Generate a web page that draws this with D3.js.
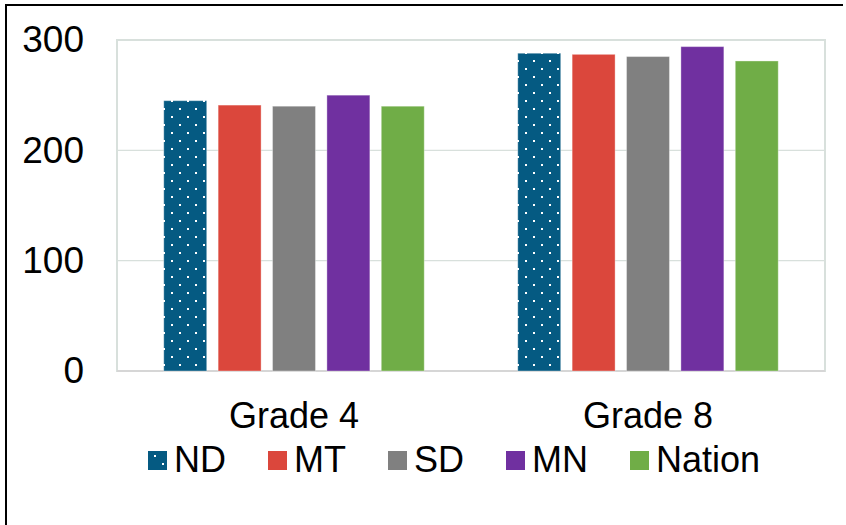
<!DOCTYPE html>
<html>
<head>
<meta charset="utf-8">
<script src="https://cdn.jsdelivr.net/npm/d3@7/dist/d3.min.js"></script>
<style>
  html, body { margin: 0; padding: 0; background: #fff; }
  svg { display: block; font-family: "Liberation Sans", Arial, sans-serif; }
</style>
</head>
<body>
<svg id="chart" width="846" height="525"></svg>
<script>
const categories = ["Grade 4", "Grade 8"];
const series = ["ND", "MT", "SD", "MN", "Nation"];
const ndValues = [245, 288];
const mtValues = [241, 287];
const sdValues = [240, 285];
const mnValues = [250, 294];
const nationValues = [240, 281];
const yTicks = [0, 100, 200, 300];
const colors = ["url(#dots)", "#db473c", "#808080", "#7030a0", "#70ad47"];

const valuesBySeries = [ndValues, mtValues, sdValues, mnValues, nationValues];

const svg = d3.select("#chart");
const defs = svg.append("defs");
const pat = defs.append("pattern")
  .attr("id", "dots").attr("patternUnits", "userSpaceOnUse")
  .attr("width", 16).attr("height", 16).attr("x", 4).attr("y", 2);
pat.append("rect").attr("width", 16).attr("height", 16).attr("fill", "#055a82");
pat.append("rect").attr("x", 2).attr("y", 2).attr("width", 2).attr("height", 2).attr("fill", "#fff");
pat.append("rect").attr("x", 10).attr("y", 10).attr("width", 2).attr("height", 2).attr("fill", "#fff");

// outer frame (left and top edges visible)
svg.append("path").attr("d", "M6,526 L6,5 L843,5")
  .attr("fill", "none").attr("stroke", "#000").attr("stroke-width", 2);

const mLeft = 117, mRight = 825, mTop = 40, mBottom = 371;
const y = d3.scaleLinear().domain([0, 300]).range([mBottom, mTop]);
const x0 = d3.scaleBand().domain(categories).range([mLeft, mRight]).padding(0);
const x1 = d3.scaleBand().domain(series).range([0, x0.bandwidth()])
  .paddingInner(0.21).paddingOuter(0.86);

// gridlines
const yAxis = d3.axisLeft(y).tickValues(yTicks).tickSize(0).tickPadding(0);
const grid = svg.append("g");
grid.selectAll("line").data(yTicks).join("line")
  .attr("x1", mLeft).attr("x2", mRight)
  .attr("y1", d => y(d)).attr("y2", d => y(d))
  .attr("stroke", d => d === 0 ? "#d6d6d6" : "#d8e0dc")
  .attr("stroke-width", d => d === 0 ? 2 : 1.3);
// plot border
svg.append("rect").attr("x", mLeft).attr("y", mTop)
  .attr("width", mRight - mLeft).attr("height", mBottom - mTop)
  .attr("fill", "none").attr("stroke", "#d8e0dc").attr("stroke-width", 2);
svg.append("line").attr("x1", mLeft).attr("x2", mRight).attr("y1", mBottom).attr("y2", mBottom)
  .attr("stroke", "#d6d6d6").attr("stroke-width", 2);

// y axis labels
const gy = svg.append("g").attr("transform", `translate(84,0)`).call(yAxis);
gy.select(".domain").remove();
gy.selectAll("text").attr("font-size", 37).attr("fill", "#000")
  .attr("font-family", "Liberation Sans, Arial, sans-serif");

// bars
const groups = svg.append("g").selectAll("g").data(categories).join("g")
  .attr("transform", d => `translate(${x0(d)},0)`);
groups.selectAll("rect")
  .data((c, ci) => series.map((s, si) => ({ s, si, v: valuesBySeries[si][ci] })))
  .join("rect")
  .attr("x", d => x1(d.s))
  .attr("y", d => y(d.v))
  .attr("width", x1.bandwidth())
  .attr("height", d => y(0) - y(d.v))
  .attr("fill", d => colors[d.si])
  .attr("stroke", "rgba(255,255,255,0.35)").attr("stroke-width", 1);

// x axis labels
const xAxis = d3.axisBottom(x0).tickSize(0).tickPadding(0);
const gx = svg.append("g").attr("transform", `translate(0,${mBottom})`).call(xAxis);
gx.select(".domain").remove();
gx.selectAll("text").attr("font-size", 36).attr("fill", "#000")
  .attr("dy", null).attr("y", 57)
  .attr("font-family", "Liberation Sans, Arial, sans-serif");

// legend
const legendX = [148, 268, 388, 506, 630];
const lg = svg.append("g").selectAll("g").data(series).join("g")
  .attr("transform", (d, i) => `translate(${legendX[i]},451)`);
lg.append("rect").attr("width", 19).attr("height", 19)
  .attr("fill", (d, i) => colors[i]);
lg.append("text").attr("x", 26).attr("y", 21)
  .attr("font-size", 36).attr("fill", "#000").text(d => d);
</script>
</body>
</html>
